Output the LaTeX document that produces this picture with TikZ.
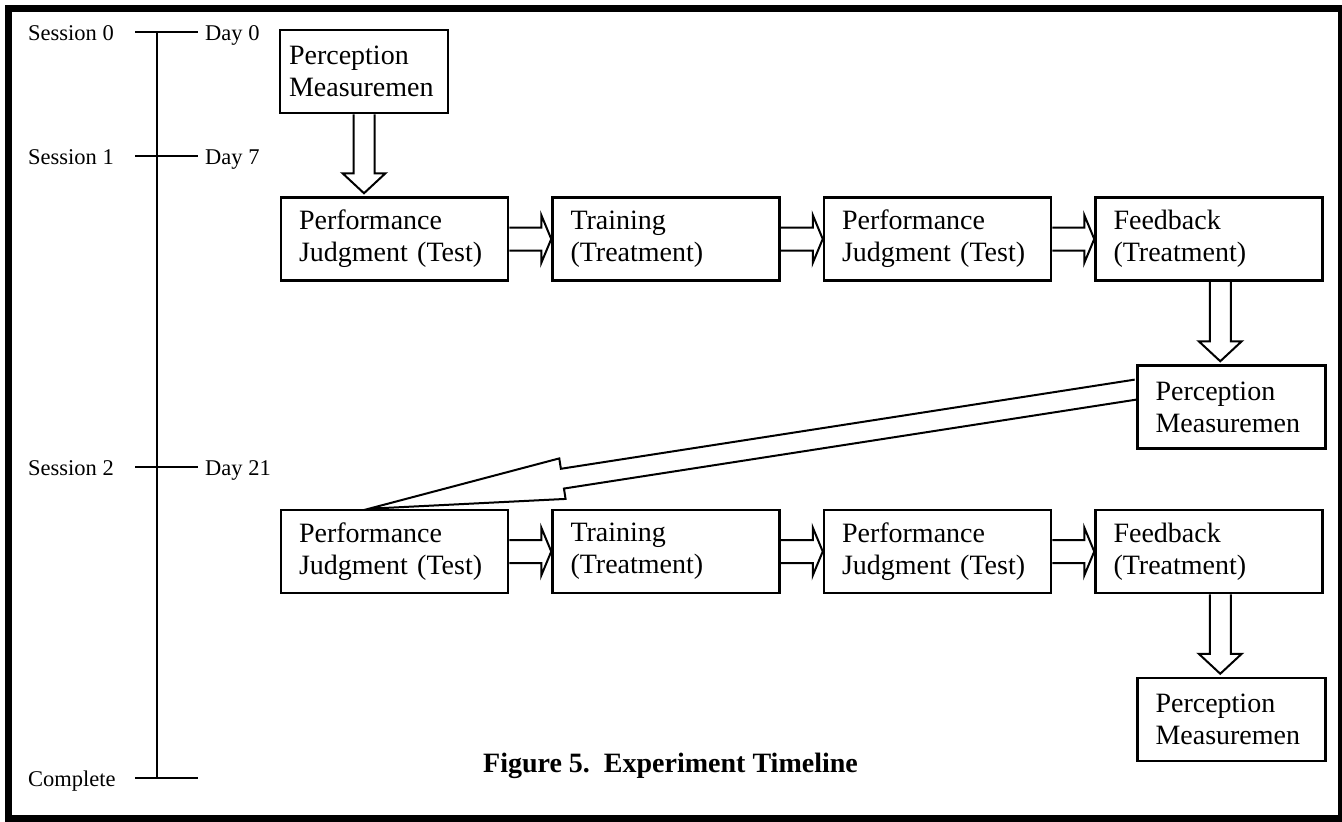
\documentclass[tikz,border=0pt]{standalone}
\usepackage{fontspec}
\setmainfont{Liberation Serif}
\usetikzlibrary{positioning, calc}
\tikzset{
  stagebox/.style={rectangle, draw, line width=2.5pt, text width=191pt,
                   inner xsep=18pt, inner ysep=0pt, minimum height=83pt,
                   align=left, font=\fontsize{28}{32}\selectfont},
  percbox/.style={stagebox, text width=152pt},
  fatarrow/.style={line width=2pt, line join=miter},
  tickline/.style={line width=2pt},
  daylabel/.style={anchor=base west, inner sep=0pt, font=\fontsize{22.5}{26}\selectfont}
}
\newcommand{\blockarrow}[5]{%
  \coordinate (ba-head) at ($(#2)!#5!(#1)$);
  \draw[fatarrow] ($(#1)!#3!90:(#2)$) -- ($(ba-head)!#3!90:(#2)$)
    -- ($(ba-head)!#4!90:(#2)$) -- (#2) -- ($(ba-head)!#4!-90:(#2)$)
    -- ($(ba-head)!#3!-90:(#2)$) -- ($(#1)!#3!-90:(#2)$);
}

\begin{document}
\begin{tikzpicture}[x=1pt, y=-1pt]

  \path[use as bounding box, fill=white] (0,0) rectangle (1342,822);
  \draw[line width=7pt] (8.5,8.5) rectangle (1341.5,818.5);

  \coordinate (t0) at (157,32);
  \coordinate (t1) at (157,156);
  \coordinate (t2) at (157,467);
  \coordinate (t3) at (157,778);
  \draw[tickline] (t0) -- (t3);
  \draw[tickline] ($(t0)+(-22,0)$) -- ++(63,0);
  \draw[tickline] ($(t1)+(-22,0)$) -- ++(63,0);
  \draw[tickline] ($(t2)+(-22,0)$) -- ++(63,0);
  \draw[tickline] ($(t3)+(-22,0)$) -- ++(63,0);

  \node[daylabel] (s0) at (28,40) {Session 0};
  \node[daylabel] (s1) at (28,164) {Session 1};
  \node[daylabel] (s2) at (28,475) {Session 2};
  \node[daylabel] (s3) at (28,786) {Complete};
  \node[daylabel] (d0) at (205,40) {Day 0};
  \node[daylabel] (d1) at (205,164) {Day 7};
  \node[daylabel] (d2) at (205,475) {Day 21};

  \node[stagebox] (perfA) at (394.5,239) {Performance\\Judgment (Test)};
  \node[stagebox, right=42pt of perfA] (trainA) {Training\\(Treatment)};
  \node[stagebox, right=42pt of trainA] (perfB) {Performance\\Judgment (Test)};
  \node[stagebox, right=42pt of perfB] (feedA) {Feedback\\(Treatment)};

  \node[percbox, text width=150pt, inner xsep=9pt,
        above=82pt of perfA.north west, anchor=south west, xshift=-1pt] (percA)
    {Perception\\Measuremen};
  \node[percbox, below=82.5pt of feedA.south east, anchor=north east, xshift=3pt] (percB)
    {Perception\\Measuremen};

  \node[stagebox, below=227pt of perfA] (perfC) {Performance\\Judgment (Test)};
  \node[stagebox, right=42pt of perfC] (trainB) {Training\\(Treatment)};
  \node[stagebox, right=42pt of trainB] (perfD) {Performance\\Judgment (Test)};
  \node[stagebox, right=42pt of perfD] (feedB) {Feedback\\(Treatment)};
  \node[percbox, below=82.5pt of feedB.south east, anchor=north east, xshift=3pt] (percC)
    {Perception\\Measuremen};

  \node[anchor=base, inner sep=0pt, font=\bfseries\fontsize{28}{32}\selectfont] (caption)
    at (670.5,772) {Figure 5.~~Experiment Timeline};

  \coordinate (p0tip) at ($(percA.south |- perfA.north)+(0,-3)$);
  \blockarrow{percA.south}{p0tip}{10.5pt}{21.5pt}{20pt}

  \blockarrow{perfA.east}{trainA.west}{11.5pt}{24pt}{10pt}
  \blockarrow{trainA.east}{perfB.west}{11.5pt}{24pt}{10pt}
  \blockarrow{perfB.east}{feedA.west}{11.5pt}{24pt}{10pt}

  \coordinate (fbmid) at ($(feedA.south)!.5!(percB.north)$);
  \coordinate (fbtip) at ($(fbmid |- percB.north)+(0,-3)$);
  \blockarrow{fbmid |- feedA.south}{fbtip}{10.5pt}{21.5pt}{20pt}

  \coordinate (backstart) at ($(percB.west)+(0,-17.5)$);
  \coordinate (backtip) at ($(perfC.north west)+(89,0)$);
  \blockarrow{backstart}{backtip}{10pt}{20.5pt}{196pt}

  \blockarrow{perfC.east}{trainB.west}{11.5pt}{24pt}{10pt}
  \blockarrow{trainB.east}{perfD.west}{11.5pt}{24pt}{10pt}
  \blockarrow{perfD.east}{feedB.west}{11.5pt}{24pt}{10pt}

  \coordinate (fcmid) at ($(feedB.south)!.5!(percC.north)$);
  \coordinate (fctip) at ($(fcmid |- percC.north)+(0,-3)$);
  \blockarrow{fcmid |- feedB.south}{fctip}{10.5pt}{21.5pt}{20pt}

\end{tikzpicture}
\end{document}
